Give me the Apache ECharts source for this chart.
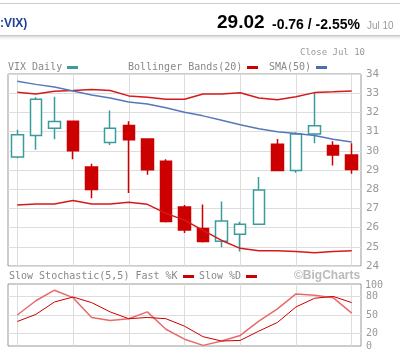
<!DOCTYPE html>
<html>
<head>
<meta charset="utf-8">
<script src="https://cdn.jsdelivr.net/npm/echarts@6/dist/echarts.min.js"></script>
<style>
  html, body { margin: 0; padding: 0; background: #fff; }
  #chart { width: 408px; height: 353px; }
</style>
</head>
<body>
<div id="chart"></div>
<script>
// VIX daily candles, last 19 sessions
var categories = ['Jun 15', 'Jun 16', 'Jun 17', 'Jun 18', 'Jun 19', 'Jun 22', 'Jun 23', 'Jun 24', 'Jun 25', 'Jun 26',
  'Jun 29', 'Jun 30', 'Jul 1', 'Jul 2', 'Jul 6', 'Jul 7', 'Jul 8', 'Jul 9', 'Jul 10'];
var openVals  = [29.68, 30.80, 31.18, 31.54, 29.16, 30.43, 31.32, 30.62, 29.45, 27.07, 25.95, 25.29, 25.66, 26.17, 30.34, 28.98, 30.87, 30.27, 29.78];
var closeVals = [30.83, 32.68, 31.52, 30.00, 27.99, 31.18, 30.57, 29.01, 26.32, 25.87, 25.28, 26.35, 26.17, 27.96, 28.98, 30.87, 31.31, 29.78, 29.02];
var lowVals   = [29.61, 30.05, 30.60, 29.56, 27.53, 30.30, 27.80, 28.75, 26.26, 25.72, 25.22, 24.98, 24.75, 26.17, 28.98, 28.86, 30.39, 29.23, 28.80];
var highVals  = [31.10, 32.79, 32.82, 31.56, 29.33, 32.10, 31.54, 30.65, 29.56, 27.18, 27.20, 27.36, 26.30, 28.63, 30.62, 30.97, 33.05, 30.50, 30.39];

// Bollinger Bands(20) and SMA(50)
var bollUpper = [33.05, 32.96, 33.10, 33.14, 33.19, 33.14, 32.86, 32.79, 32.68, 32.68, 32.96, 32.96, 33.02, 32.75, 32.66, 32.81, 33.03, 33.07, 33.12];
var bollLower = [27.18, 27.23, 27.23, 27.41, 27.23, 27.23, 27.32, 27.21, 26.74, 26.39, 25.86, 25.33, 24.92, 24.80, 24.80, 24.75, 24.69, 24.75, 24.80];
var sma50     = [33.62, 33.46, 33.32, 33.11, 32.91, 32.75, 32.54, 32.44, 32.24, 32.01, 31.82, 31.59, 31.36, 31.15, 30.99, 30.90, 30.80, 30.60, 30.46];

// Slow Stochastic(5,5)
var fastK = [50, 73, 90, 78, 46, 41, 44, 55, 27, 11, 1, 8, 17, 40, 60, 84, 82, 78, 53];
var slowD = [39.5, 51, 71, 79, 70, 55, 44, 46, 44, 32, 15, 8, 9, 24, 38, 63, 77, 80, 70];

var stochTicks = [0, 20, 50, 80, 100];
var stochGridLines = [20, 50, 80];

var candleData = categories.map(function (c, i) {
  return [openVals[i], closeVals[i], lowVals[i], highVals[i]];
});

var mono = 'DejaVu Sans Mono';
var gridColor = '#dddddd';
var labelColor = '#999999';

// top label of the stochastic scale is placed by hand, the axis drops it
var stochLow = stochTicks.filter(function (v) { return v < 100; });
var stochTop = stochTicks.filter(function (v) { return v >= 100; });

var chart = echarts.init(document.getElementById('chart'));

chart.setOption({
  animation: false,
  backgroundColor: '#ffffff',
  grid: [
    { left: 8, right: 47, top: 74, height: 192, show: true, borderColor: '#999', borderWidth: 1 },
    { left: 8, right: 47, top: 284, height: 62, show: true, borderColor: '#999', borderWidth: 1 }
  ],
  xAxis: [
    {
      type: 'category', gridIndex: 0, data: categories, boundaryGap: true,
      axisLine: { show: false }, axisTick: { show: false }, axisLabel: { show: false },
      splitLine: { show: true, alignWithLabel: true, lineStyle: { color: gridColor } }
    },
    {
      type: 'category', gridIndex: 1, data: categories, boundaryGap: true,
      axisLine: { show: false }, axisTick: { show: false }, axisLabel: { show: false },
      splitLine: { show: true, alignWithLabel: true, lineStyle: { color: gridColor } }
    }
  ],
  yAxis: [
    {
      type: 'value', gridIndex: 0, position: 'right', min: 24, max: 34, interval: 1,
      axisLine: { show: false }, axisTick: { show: false },
      axisLabel: { color: labelColor, fontFamily: mono, fontSize: 11, margin: 5, showMinLabel: true, showMaxLabel: true },
      splitLine: { show: true, lineStyle: { color: gridColor } }
    },
    {
      type: 'value', gridIndex: 1, position: 'right', min: 0, max: 100,
      axisLine: { show: false },
      axisTick: { show: false, customValues: stochGridLines },
      axisLabel: {
        color: labelColor, fontFamily: mono, fontSize: 10, margin: 5,
        customValues: stochLow, showMinLabel: true, showMaxLabel: true
      },
      splitLine: { show: true, lineStyle: { color: gridColor } }
    }
  ],
  series: [
    {
      name: 'VIX Daily', type: 'candlestick', xAxisIndex: 0, yAxisIndex: 0,
      data: candleData, barWidth: 12,
      itemStyle: {
        color: '#ffffff', borderColor: '#3a9c9c',
        color0: '#cc0000', borderColor0: '#cc0000',
        borderWidth: 1.5
      }
    },
    {
      name: 'Upper', type: 'line', xAxisIndex: 0, yAxisIndex: 0, data: bollUpper,
      symbol: 'none', lineStyle: { color: '#d41a1a', width: 1.5 }
    },
    {
      name: 'Lower', type: 'line', xAxisIndex: 0, yAxisIndex: 0, data: bollLower,
      symbol: 'none', lineStyle: { color: '#d41a1a', width: 1.5 }
    },
    {
      name: 'SMA(50)', type: 'line', xAxisIndex: 0, yAxisIndex: 0, data: sma50,
      symbol: 'none', lineStyle: { color: '#5578b8', width: 1.5 }
    },
    {
      name: 'Fast %K', type: 'line', xAxisIndex: 1, yAxisIndex: 1, data: fastK,
      symbol: 'none', lineStyle: { color: '#e86a6a', width: 1.5 }
    },
    {
      name: 'Slow %D', type: 'line', xAxisIndex: 1, yAxisIndex: 1, data: slowD,
      symbol: 'none', lineStyle: { color: '#cc0000', width: 1 }
    }
  ],
  graphic: [
    // header
    { type: 'line', shape: { x1: 0, y1: 3.5, x2: 400, y2: 3.5 }, style: { stroke: '#cccccc', lineWidth: 1 } },
    { type: 'text', left: 0, top: 18, style: { text: ':VIX)', fill: '#1f3f99', font: 'bold 12px "Liberation Sans"' } },
    { type: 'text', left: 217, top: 13, style: { text: '29.02', fill: '#000', font: 'bold 19px "Liberation Sans"' } },
    { type: 'text', left: 272, top: 18, style: { text: '-0.76 / -2.55%', fill: '#000', font: 'bold 14px "Liberation Sans"' } },
    { type: 'text', left: 367, top: 21, style: { text: 'Jul 10', fill: '#999', font: '10px "Liberation Sans"' } },
    {
      type: 'rect', shape: { x: 0, y: 36, width: 400, height: 5 },
      style: {
        fill: new echarts.graphic.LinearGradient(0, 0, 0, 1, [
          { offset: 0, color: '#d8d8d8' }, { offset: 1, color: 'rgba(255,255,255,0)' }
        ])
      }
    },
    { type: 'line', shape: { x1: 0, y1: 35.5, x2: 400, y2: 35.5 }, style: { stroke: '#c8c8c8', lineWidth: 1 } },
    { type: 'text', left: 300, top: 48, style: { text: 'Close Jul 10', fill: '#999', font: '9px "DejaVu Sans Mono"' } },
    // price legend
    { type: 'text', left: 8, top: 62, style: { text: 'VIX Daily', fill: '#888', font: '10px "DejaVu Sans Mono"' } },
    { type: 'rect', shape: { x: 67, y: 66, width: 11, height: 3 }, style: { fill: '#3a9c9c' } },
    { type: 'text', left: 128, top: 62, style: { text: 'Bollinger Bands(20)', fill: '#888', font: '10px "DejaVu Sans Mono"' } },
    { type: 'rect', shape: { x: 247, y: 66, width: 11, height: 3 }, style: { fill: '#cc0000' } },
    { type: 'text', left: 269, top: 62, style: { text: 'SMA(50)', fill: '#888', font: '10px "DejaVu Sans Mono"' } },
    { type: 'rect', shape: { x: 316, y: 66, width: 11, height: 3 }, style: { fill: '#4a6fb0' } },
    // stochastic legend
    { type: 'text', left: 9, top: 271, style: { text: 'Slow Stochastic(5,5) Fast %K', fill: '#888', font: '10px "DejaVu Sans Mono"' } },
    { type: 'rect', shape: { x: 183, y: 275, width: 11, height: 3 }, style: { fill: '#cc0000' } },
    { type: 'text', left: 199, top: 271, style: { text: 'Slow %D', fill: '#888', font: '10px "DejaVu Sans Mono"' } },
    { type: 'rect', shape: { x: 246, y: 275, width: 11, height: 3 }, style: { fill: '#cc0000' } },
    { type: 'text', left: 294, top: 270, style: { text: '\u00a9BigCharts', fill: '#bbbbbb', font: 'bold 12px "Liberation Sans"' } },
    // top stochastic label, absolute position, drawn above everything
    {
      type: 'text', z: 1000, x: 365, y: 285,
      style: {
        text: String(stochTop[0]), fill: '#999999',
        font: '10px "DejaVu Sans Mono"', textAlign: 'left', textVerticalAlign: 'middle'
      }
    }
  ]
});
</script>
</body>
</html>
